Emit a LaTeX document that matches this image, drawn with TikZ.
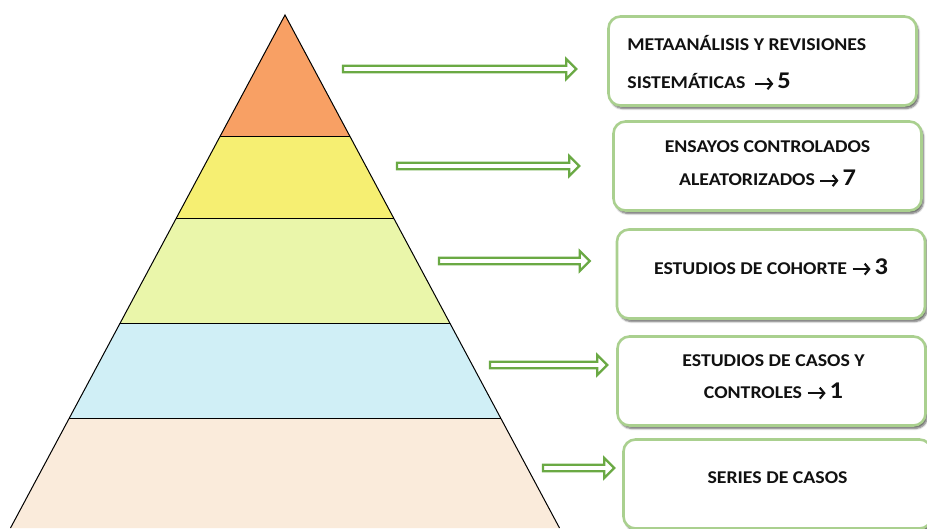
\documentclass[tikz,border=0pt]{standalone}
\usepackage{fontspec}
\setmainfont{Carlito}[FakeStretch=1.1]
\usetikzlibrary{shadows.blur,arrows.meta,positioning,calc}
\definecolor{pyOrange}{HTML}{F8A064}
\definecolor{pyYellow}{HTML}{F6EF72}
\definecolor{pyLime}{HTML}{EAF6AA}
\definecolor{pyBlue}{HTML}{D0EFF6}
\definecolor{pyBeige}{HTML}{FAEBDB}
\definecolor{boxEdge}{HTML}{AAD08F}
\definecolor{arrGreen}{HTML}{6AA944}
\definecolor{txtInk}{HTML}{111111}
\newcommand{\toNum}[1]{\tikz[baseline=0pt]\draw[txtInk, line width=2.1pt, -{Straight Barb[length=4.5pt, width=11pt, line width=2.1pt]}] (0pt,5pt) -- (18pt,5pt);\,{\fontsize{24}{24}\selectfont #1}}

\tikzset{
  stepbox/.style={draw=boxEdge, line width=2.6pt, fill=white, rounded corners=12pt,
    minimum width=308pt, minimum height=89pt,
    blur shadow={shadow xshift=2pt, shadow yshift=-3pt, shadow opacity=60, shadow blur steps=6}},
  boxtext/.style={font=\fontsize{18}{32}\selectfont\bfseries, text=txtInk, align=center, inner sep=0pt},
  layer/.style={draw=black, line width=1pt},
  linkarrow/.style={draw=arrGreen, line width=2.2pt, fill=white, line join=miter,
    to path={($(\tikztostart)+(0,-3.3)$) -- ($(\tikztotarget)+(-10,-3.3)$)
      -- ($(\tikztotarget)+(-10,-10)$) -- (\tikztotarget)
      -- ($(\tikztotarget)+(-10,10)$) -- ($(\tikztotarget)+(-10,3.3)$)
      -- ($(\tikztostart)+(0,3.3)$) -- cycle}}
}

\begin{document}
\begin{tikzpicture}[x=1pt, y=-1pt]
  \useasboundingbox (0,0) rectangle (927,528);

  % pyramid
  \coordinate (apex) at (285,15);
  \coordinate (bl) at (10.5,528);
  \coordinate (br) at (559.5,528);
  \path (apex) -- (bl) coordinate[pos=0.2378] (l1) coordinate[pos=0.3957] (l2)
    coordinate[pos=0.6004] (l3) coordinate[pos=0.7856] (l4);
  \path (apex) -- (br) coordinate[pos=0.2378] (r1) coordinate[pos=0.3957] (r2)
    coordinate[pos=0.6004] (r3) coordinate[pos=0.7856] (r4);
  \fill[pyOrange] (apex) -- (l1) -- (r1) -- cycle;
  \fill[pyYellow] (l1) -- (l2) -- (r2) -- (r1) -- cycle;
  \fill[pyLime] (l2) -- (l3) -- (r3) -- (r2) -- cycle;
  \fill[pyBlue] (l3) -- (l4) -- (r4) -- (r3) -- cycle;
  \fill[pyBeige] (l4) -- (bl) -- (br) -- (r4) -- cycle;
  \draw[layer] (l1) -- (r1) (l2) -- (r2) (l3) -- (r3) (l4) -- (r4);
  \draw[layer] (bl) -- (apex) -- (br);

  % boxes
  \node[stepbox] (m1) at (762.5,61) {};
  \node[stepbox] (m2) at (767.5,166) {};
  \node[stepbox] (m3) at (771,274) {};
  \node[stepbox] (m4) at (771.5,381) {};
  \node[stepbox] (m5) at (777.5,484) {};

  \node[boxtext, align=left, anchor=west, font=\fontsize{18}{38}\selectfont\bfseries]
    (t1) at ([xshift=20pt, yshift=-2pt]m1.west) {METAANÁLISIS Y REVISIONES\\SISTEMÁTICAS~~\toNum{5}};
  \node[boxtext, font=\fontsize{18}{33}\selectfont\bfseries] (t2) at ([yshift=2pt]m2.center)
    {ENSAYOS CONTROLADOS\\ALEATORIZADOS \toNum{7}};
  \node[boxtext] (t3) at ([yshift=7pt]m3.center) {ESTUDIOS DE COHORTE \toNum{3}};
  \node[boxtext] (t4) at ([xshift=2pt, yshift=4pt]m4.center)
    {ESTUDIOS DE CASOS Y\\CONTROLES \toNum{1}};
  \node[boxtext] (t5) at ([yshift=6pt]m5.center) {SERIES DE CASOS};

  % arrows
  \coordinate (s1) at (343,69);
  \coordinate (s2) at (397,166);
  \coordinate (s3) at (439,261);
  \coordinate (s4) at (490,365);
  \coordinate (s5) at (543,468);
  \draw[linkarrow] (s1) to ($(s1 -| m1.west)+(-31,0)$);
  \draw[linkarrow] (s2) to ($(s2 -| m2.west)+(-33,0)$);
  \draw[linkarrow] (s3) to ($(s3 -| m3.west)+(-26,0)$);
  \draw[linkarrow] (s4) to ($(s4 -| m4.west)+(-9,0)$);
  \draw[linkarrow] (s5) to ($(s5 -| m5.west)+(-8,0)$);
\end{tikzpicture}
\end{document}
